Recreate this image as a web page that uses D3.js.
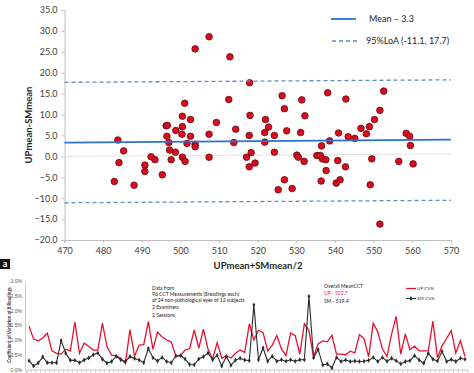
<!DOCTYPE html>
<html>
<head>
<meta charset="utf-8">
<script src="https://cdnjs.cloudflare.com/ajax/libs/d3/7.8.5/d3.min.js"></script>
<style>
  body { margin: 0; background: #fff; }
  svg { display: block; font-family: Lato, "Liberation Sans", sans-serif; }
</style>
</head>
<body>
<script>
// ---- datos grafico superior (Bland-Altman) ----
const meanCCT = [483.8, 485.3, 484.1, 482.9, 488.0, 490.8, 490.8, 492.4, 493.4, 495.3,
  496.3, 496.6, 496.5, 497.0, 497.2, 497.6, 498.7, 498.8, 500.4, 500.5,
  500.5, 501.1, 500.5, 501.2, 501.7, 502.6, 502.6, 503.8, 503.8, 503.8,
  507.4, 507.4, 507.4, 509.3, 512.5, 512.8, 514.3, 513.8, 517.9, 518.0,
  517.8, 517.1, 518.3, 517.8, 519.3, 522.0, 522.8, 521.8, 521.8, 524.3,
  524.3, 526.3, 526.9, 527.5, 526.9, 525.3, 528.9, 530.1, 530.5, 532.0,
  531.4, 532.2, 531.1, 535.3, 536.2, 536.7, 537.6, 536.5, 537.7, 536.4,
  538.1, 538.6, 540.9, 540.7, 540.3, 541.3, 542.8, 543.4, 542.7, 545.1,
  546.7, 548.1, 548.9, 550.2, 551.6, 552.6, 549.5, 549.1, 551.6, 556.5,
  558.4, 559.3, 559.5, 560.2];
const diffCCT = [3.9, 1.3, -1.5, -6.0, -6.9, -2.1, -3.6, -0.1, -0.8, -4.4,
  7.3, 7.4, 4.8, 3.3, 1.5, -0.8, 1.0, 6.2, 5.3, 7.1,
  9.6, 12.7, -0.2, -1.2, 3.1, 8.8, 4.8, 25.7, 2.9, 2.3,
  28.6, 5.3, -0.2, 8.1, 13.6, 23.8, 6.5, 3.3, 17.6, 9.8,
  5.0, -0.2, 0.9, -2.5, -1.6, 8.8, 7.0, 5.7, 3.4, 5.0,
  1.0, 14.5, 11.4, 6.1, -5.6, -8.0, -7.7, 0.3, -0.2, -1.2,
  13.5, 9.7, 5.7, 0.2, 0.2, -0.6, -0.8, 2.5, -3.4, -5.9,
  15.2, 3.7, 5.6, -1.0, -6.4, -5.6, 13.7, 4.7, -2.5, 4.3,
  6.7, 5.4, 7.1, 8.8, 11.0, 15.6, -0.6, -6.8, -16.2, -1.2,
  5.5, 4.8, 2.6, -1.8];
// valores de las lineas en x=470 y x=570 (la imagen viene algo girada)
const meanLine = [3.3, 4.0];
const loaUpper = [17.7, 18.3];
const loaLower = [-11.1, -10.5];
const zeroLine = [0, 0.6];
const xTicks1 = d3.range(470, 571, 10);
const yTicks1 = d3.range(-20, 36, 5);
const legend1 = ["Mean \u2013 3.3", "95%LoA (-11.1, 17.7)"];

// ---- datos grafico inferior (CV%) ----
const upCV = [1.48, 1.03, 0.97, 1.07, 1.23, 0.63, 0.55, 0.52, 0.69, 0.63,
  1.61, 0.55, 0.89, 0.79, 0.66, 0.66, 1.57, 0.77, 0.49, 0.47,
  0.37, 0.20, 1.35, 0.45, 0.83, 0.84, 1.62, 0.68, 1.27, 1.10,
  1.00, 0.93, 0.46, 0.47, 0.66, 0.71, 1.34, 0.72, 1.37, 0.69,
  0.35, 0.91, 0.38, 0.47, 0.39, 0.55, 0.66, 0.58,
  1.55, 1.00, 1.33, 1.25, 0.63, 0.82, 1.15, 0.70, 0.47, 1.24, 1.15, 0.52, 1.55, 1.32,
  0.43, 0.87, 0.97, 0.94, 1.16, 0.52, 0.52, 0.50, 0.62, 0.56, 1.18, 1.05, 0.43, 1.57,
  1.27, 0.70, 0.44, 1.20, 1.80, 0.52, 1.21, 0.67, 0.79, 0.63, 0.63, 0.64, 1.64, 0.40,
  0.80, 1.05, 1.32, 0.56, 0.98, 0.44];
const smCV = [0.30, 0.12, 0.22, 0.43, 0.23, 0.23, 0.23, 0.98, 0.55, 0.31,
  0.31, 0.23, 0.32, 0.39, 0.50, 0.56, 0.35, 0.22, 0.27, 0.45,
  0.33, 0.27, 0.44, 0.37, 0.32, 0.23, 0.71, 0.40, 0.29, 0.41,
  0.27, 0.23, 0.46, 0.47, 0.36, 0.17, 0.16, 0.36, 0.43, 0.56,
  0.33, 0.48, 0.12, 0.44, 0.14, 0.32, 0.38, 0.32, 0.30, 2.19,
  0.33, 0.73, 0.28, 0.45, 0.28, 0.33, 0.28, 0.33, 0.28, 0.33, 0.33, 2.48,
  0.40, 0.68, 0.15, 0.19, 0.05, 0.41, 0.27, 0.32, 0.27, 0.29, 0.27, 0.28, 0.31, 0.41,
  0.27, 0.41, 0.28, 0.38, 0.30, 0.19, 0.27, 0.30, 0.47, 0.32, 0.21, 0.55, 0.35, 0.29,
  0.61, 0.27, 0.34, 0.27, 0.38, 0.35];
const yTicks2 = [0, 0.5, 1.0, 1.5, 2.0, 2.5, 3.0];
const notes2 = ["Data from", "96 CCT Measurements (8readings each)",
  "of 24 non-pathological eyes of 12 subjects", "2 Examiners", "2 Sessions"];
const overall2 = ["Overall MeanCCT", "UP - 522.7", "SM - 519.4"];
const legend2 = ["UP CV%", "SM CV%"];

const WIDTH = 474, HEIGHT = 373;
const SVG = d3.select("body").append("svg").attr("width", WIDTH).attr("height", HEIGHT);

// ================= grafico superior =================
const x1 = d3.scaleLinear().domain([470, 570]).range([64.5, 451]);
const y1 = d3.scaleLinear().domain([-20, 35]).range([240, 10]);
const gTop = SVG.append("g");

// ejes
const axY1 = gTop.append("g").attr("transform", `translate(${x1(470)},0)`)
  .call(d3.axisLeft(y1).tickValues(yTicks1).tickSize(3).tickPadding(4).tickFormat(d3.format(".1f")));
const axX1 = gTop.append("g").attr("transform", `translate(0,${y1(-20)})`)
  .call(d3.axisBottom(x1).tickValues(xTicks1).tickSize(3).tickPadding(5).tickFormat(d3.format("d")));
[axY1, axX1].forEach(ax => {
  ax.select(".domain").attr("stroke", "#bfbfbf");
  ax.selectAll(".tick line").attr("stroke", "#bfbfbf");
  ax.selectAll("text").attr("fill", "#404040").style("font-size", "9px").style("font-family", "Lato");
});

// linea cero
gTop.append("line")
  .attr("x1", x1(470)).attr("x2", x1(570))
  .attr("y1", y1(zeroLine[0])).attr("y2", y1(zeroLine[1]))
  .attr("stroke", "#e2e2e2").attr("stroke-width", 1);

// puntos
gTop.append("g").selectAll("circle")
  .data(meanCCT.map((m, i) => [m, diffCCT[i]]))
  .join("circle")
  .attr("cx", d => x1(d[0]))
  .attr("cy", d => y1(d[1]))
  .attr("r", 3.3)
  .attr("fill", "#dc0a1e")
  .attr("stroke", "#5c0c10")
  .attr("stroke-width", 0.8);

// media y limites de acuerdo
gTop.append("line")
  .attr("x1", x1(470)).attr("x2", x1(570))
  .attr("y1", y1(meanLine[0])).attr("y2", y1(meanLine[1]))
  .attr("stroke", "#2a72d4").attr("stroke-width", 1.8);
[loaUpper, loaLower].forEach(l => {
  gTop.append("line")
    .attr("x1", x1(470)).attr("x2", x1(570))
    .attr("y1", y1(l[0])).attr("y2", y1(l[1]))
    .attr("stroke", "#5f8fbf").attr("stroke-width", 1.3)
    .attr("stroke-dasharray", "4,3");
});

// leyenda
gTop.append("line").attr("x1", 331).attr("x2", 356).attr("y1", 19).attr("y2", 19)
  .attr("stroke", "#2a72d4").attr("stroke-width", 1.8);
gTop.append("line").attr("x1", 332).attr("x2", 357).attr("y1", 41).attr("y2", 41)
  .attr("stroke", "#5f8fbf").attr("stroke-width", 1.3).attr("stroke-dasharray", "4,3");
gTop.selectAll(".leg1").data(legend1).join("text")
  .attr("class", "leg1")
  .attr("x", (d, i) => i === 0 ? 369 : 366)
  .attr("y", (d, i) => i === 0 ? 22 : 44)
  .attr("fill", "#262626").style("font-size", "9px")
  .text(d => d);

// titulos ejes
gTop.append("text")
  .attr("transform", `translate(32,125) rotate(-90)`)
  .attr("text-anchor", "middle")
  .style("font-size", "9.5px").style("font-weight", "bold").attr("fill", "#262626")
  .text("UPmean-SMmean");
gTop.append("text")
  .attr("x", 258).attr("y", 269)
  .attr("text-anchor", "middle")
  .style("font-size", "9.5px").style("font-weight", "bold").attr("fill", "#262626")
  .text("UPmean+SMmean/2");

// etiqueta "a"
gTop.append("rect").attr("x", 0).attr("y", 259).attr("width", 10).attr("height", 10).attr("fill", "#111");
gTop.append("text").attr("x", 5).attr("y", 267).attr("text-anchor", "middle")
  .attr("fill", "#fff").style("font-size", "9px").style("font-weight", "bold").text("a");

// ================= grafico inferior =================
const x2 = d3.scaleBand().domain(d3.range(upCV.length)).range([26.7, 467.3]);
const y2 = d3.scaleLinear().domain([0, 3]).range([369.5, 281]);
const gBottom = SVG.append("g");
const cx2 = i => x2(i) + x2.bandwidth() / 2;

const axY2 = gBottom.append("g").attr("transform", "translate(25,0)")
  .call(d3.axisLeft(y2).tickValues(yTicks2).tickSize(0).tickPadding(3).tickFormat(d => d.toFixed(1) + "%"));
axY2.select(".domain").attr("stroke", "#c8c8c8");
axY2.selectAll("text").attr("fill", "#555").style("font-size", "5px");

const axX2 = gBottom.append("g").attr("transform", `translate(0,${y2(0)})`)
  .call(d3.axisBottom(x2).tickSize(3).tickFormat(""));
axX2.select(".domain").attr("stroke", "#c8c8c8");
axX2.selectAll(".tick line").attr("stroke", "#c8c8c8").attr("transform", `translate(${-x2.bandwidth() / 2},0)`);

gBottom.append("text")
  .attr("transform", "translate(11,325) rotate(-90)")
  .attr("text-anchor", "middle")
  .style("font-size", "4.6px").style("font-weight", "bold").attr("fill", "#333")
  .text("Coefficient of Variation of 8 Readings");

const line2 = vals => d3.line().x((d, i) => cx2(i)).y(d => y2(d))(vals);
gBottom.append("path").attr("d", line2(upCV))
  .attr("fill", "none").attr("stroke", "#e8102e").attr("stroke-width", 1.3);
gBottom.append("path").attr("d", line2(smCV))
  .attr("fill", "none").attr("stroke", "#2b2b2b").attr("stroke-width", 1.1);
gBottom.append("g").selectAll("path")
  .data(smCV).join("path")
  .attr("transform", (d, i) => `translate(${cx2(i)},${y2(d)})`)
  .attr("d", d3.symbol(d3.symbolDiamond, 7))
  .attr("fill", "#2b2b2b");

// textos
gBottom.selectAll(".note").data(notes2).join("text")
  .attr("class", "note")
  .attr("x", 152)
  .attr("y", (d, i) => [289.5, 295.5, 301.5, 308.5, 316.5][i])
  .attr("fill", "#222").style("font-size", "5px")
  .text(d => d);
gBottom.selectAll(".ov").data(overall2).join("text")
  .attr("class", "ov")
  .attr("x", 324)
  .attr("y", (d, i) => 288 + i * 7.4)
  .attr("fill", (d, i) => i === 1 ? "#e0206a" : "#222").style("font-size", "5px")
  .text(d => d);

// leyenda inferior
gBottom.append("line").attr("x1", 406).attr("x2", 416).attr("y1", 288.5).attr("y2", 288.5)
  .attr("stroke", "#e8102e").attr("stroke-width", 1.2);
gBottom.append("line").attr("x1", 406).attr("x2", 416).attr("y1", 298.5).attr("y2", 298.5)
  .attr("stroke", "#2b2b2b").attr("stroke-width", 1);
gBottom.append("path").attr("transform", "translate(411,298.5)")
  .attr("d", d3.symbol(d3.symbolDiamond, 7)).attr("fill", "#2b2b2b");
gBottom.selectAll(".leg2").data(legend2).join("text")
  .attr("class", "leg2")
  .attr("x", 417)
  .attr("y", (d, i) => 290 + i * 10)
  .attr("fill", "#333").style("font-size", "4.6px")
  .text(d => d);
</script>
</body>
</html>
